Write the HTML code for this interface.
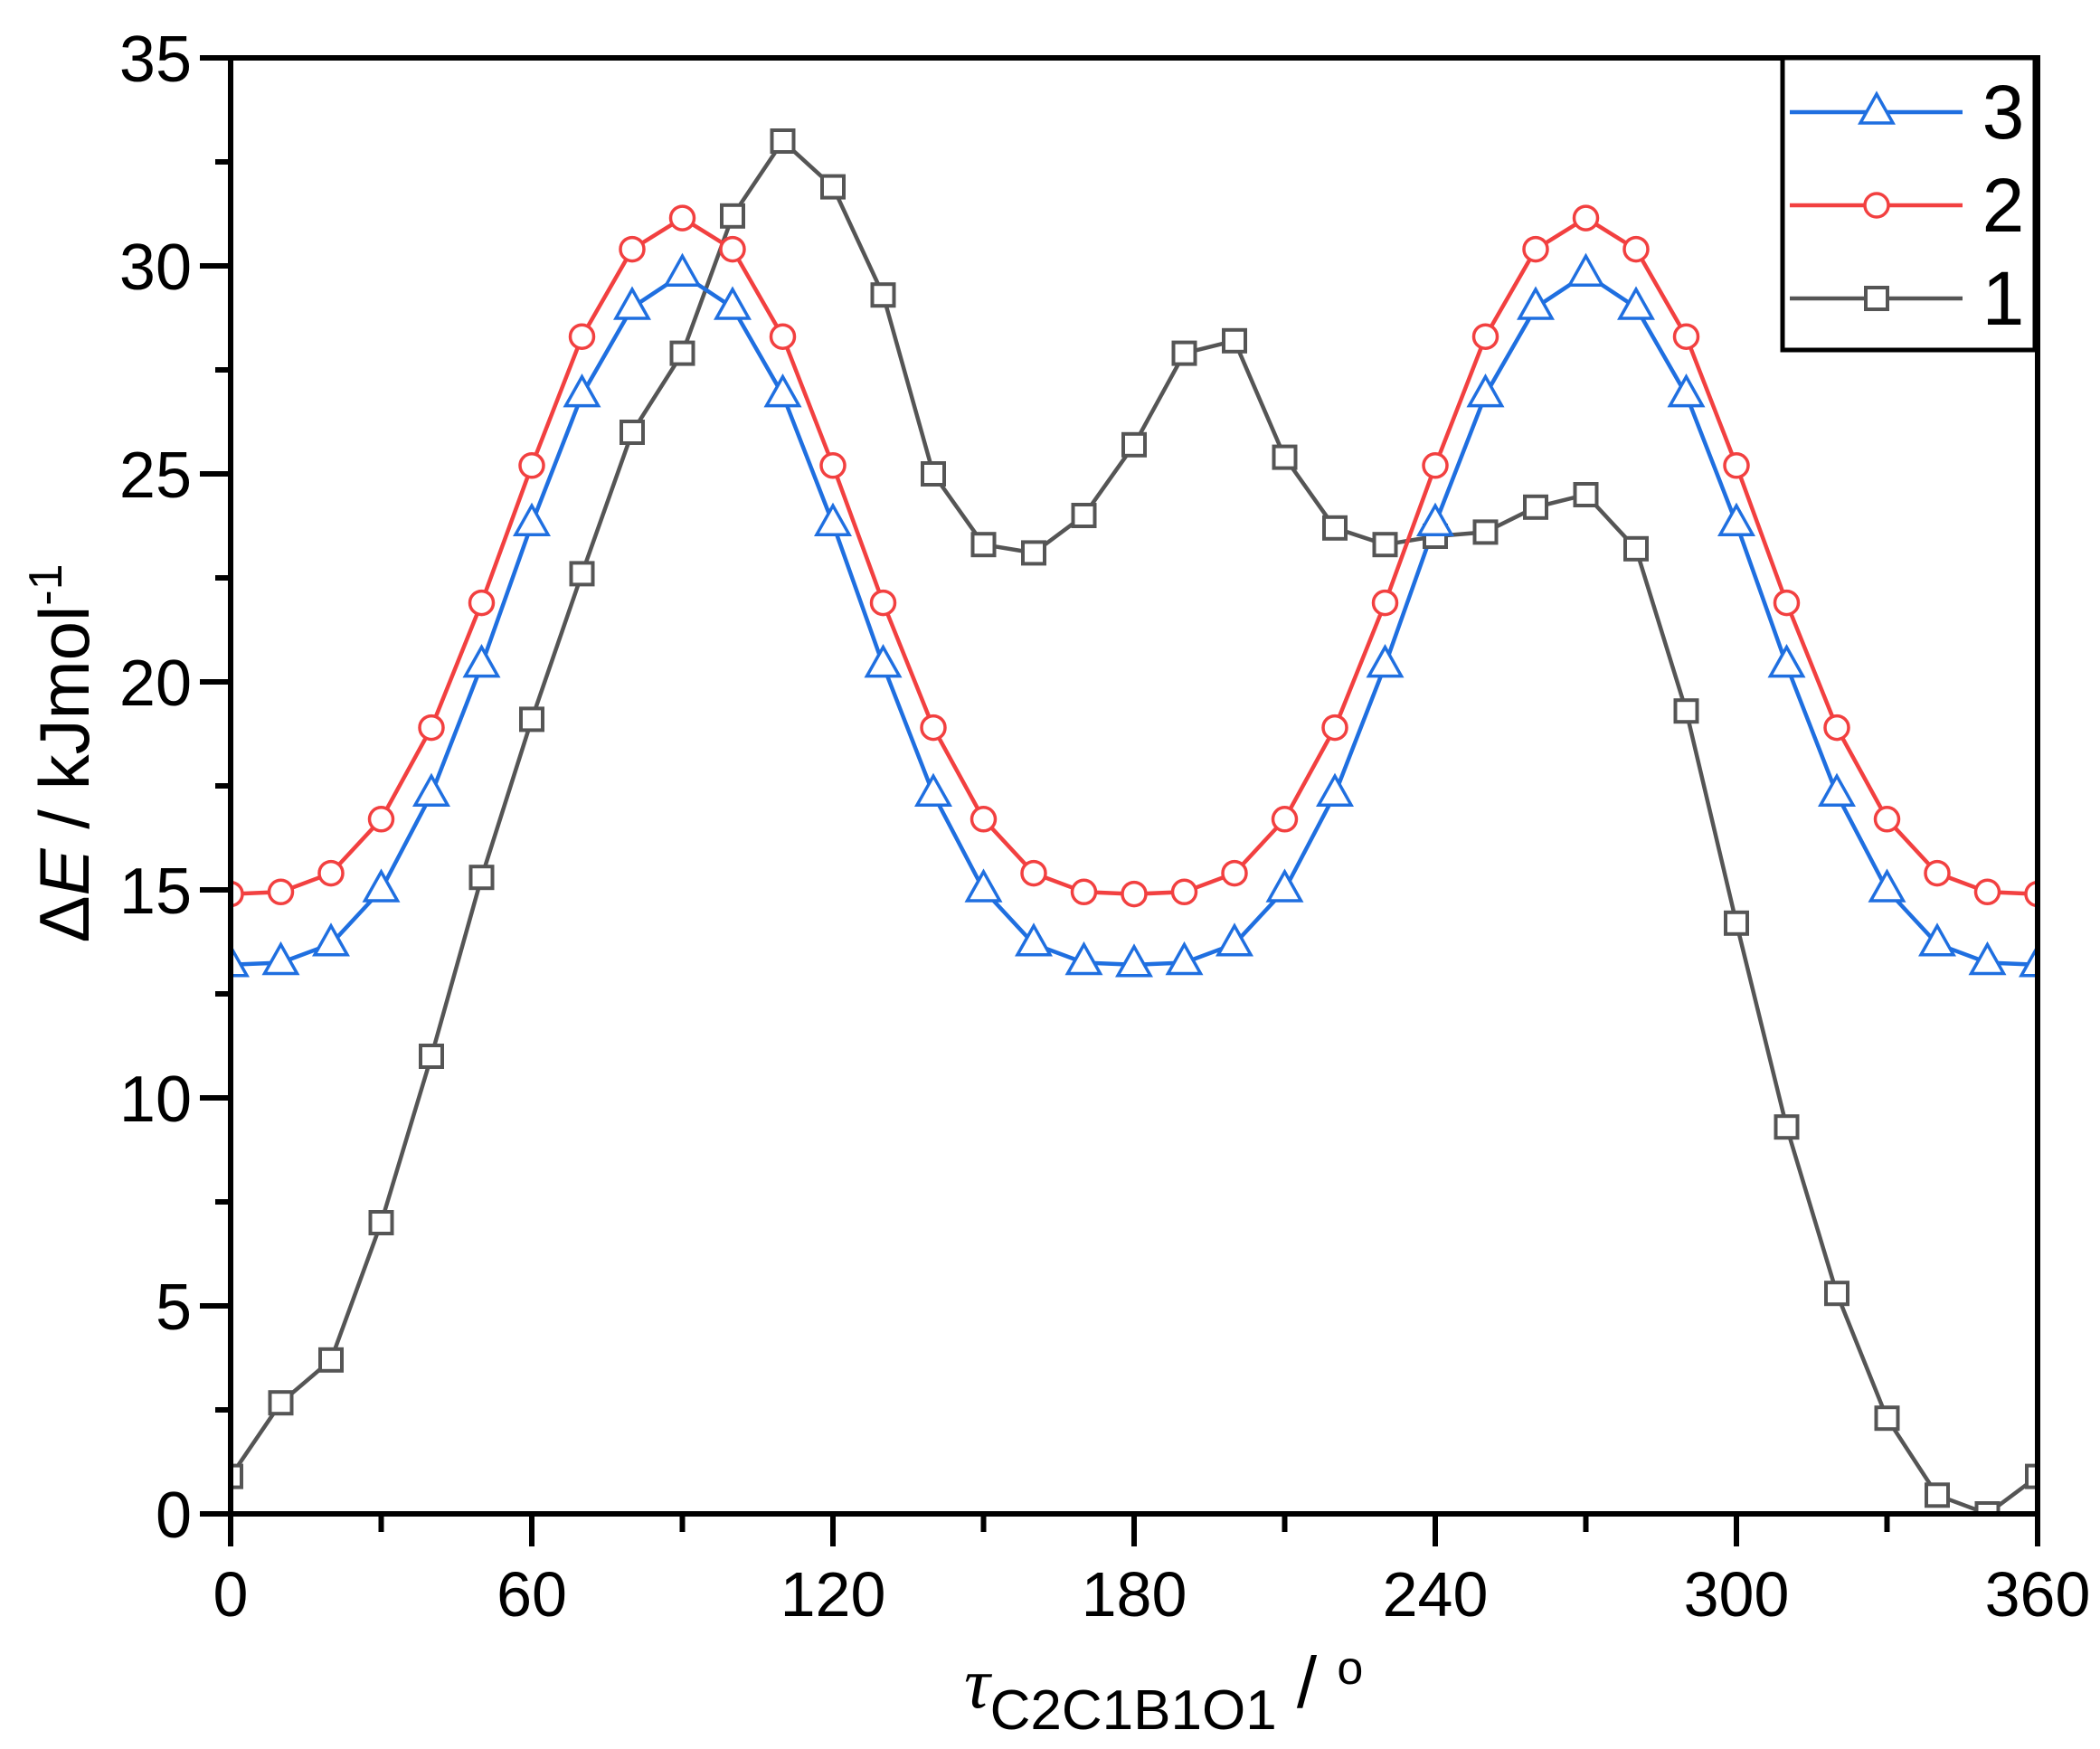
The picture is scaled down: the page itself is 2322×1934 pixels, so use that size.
<!DOCTYPE html>
<html><head><meta charset="utf-8"><style>html,body{margin:0;padding:0;background:#fff}svg{display:block}</style></head>
<body>
<svg xmlns="http://www.w3.org/2000/svg" width="2322" height="1934" viewBox="0 0 2322 1934" font-family="Liberation Sans, Arial, sans-serif">
<defs>
<clipPath id="pc"><rect x="255" y="64" width="1998" height="1610"/></clipPath>
<rect id="sq" x="-12" y="-12" width="24" height="24" fill="#fff" stroke="#555" stroke-width="4"/>
<circle id="ci" cx="0" cy="0" r="13" fill="#fff" stroke="#f24040" stroke-width="3.5"/>
<polygon id="tr" points="0,-20 18,12 -18,12" fill="#fff" stroke="#1f6fe0" stroke-width="3.5"/>
</defs>
<rect x="0" y="0" width="2322" height="1934" fill="#fff"/>

<g clip-path="url(#pc)">
<polyline fill="none" stroke="#555" stroke-width="4.5" points="255,1632.6 310.5,1551.2 366,1503.8 421.5,1352 477,1168 532.5,970.2 588,795.4 643.5,634.4 699,478 754.5,390.6 810,238.8 865.5,156 921,206.6 976.5,326.2 1032,524 1087.5,602.2 1143,611.4 1198.5,570 1254,491.8 1309.5,390.6 1365,376.8 1420.5,505.6 1476,583.8 1531.5,602.2 1587,593 1642.5,588.4 1698,560.8 1753.5,547 1809,606.8 1864.5,786.2 1920,1020.8 1975.5,1246.2 2031,1430.2 2086.5,1568.2 2142,1653.3 2197.5,1674 2253,1632.6"/>
<polyline fill="none" stroke="#f24040" stroke-width="4.5" points="255,988.6 310.5,986.3 366,965.6 421.5,905.8 477,804.6 532.5,666.6 588,514.8 643.5,372.2 699,275.6 754.5,241.1 810,275.6 865.5,372.2 921,514.8 976.5,666.6 1032,804.6 1087.5,905.8 1143,965.6 1198.5,986.3 1254,988.6 1309.5,986.3 1365,965.6 1420.5,905.8 1476,804.6 1531.5,666.6 1587,514.8 1642.5,372.2 1698,275.6 1753.5,241.1 1809,275.6 1864.5,372.2 1920,514.8 1975.5,666.6 2031,804.6 2086.5,905.8 2142,965.6 2197.5,986.3 2253,988.6"/>
<polyline fill="none" stroke="#1f6fe0" stroke-width="4.5" points="255,1066.8 310.5,1064.5 366,1043.8 421.5,984 477,878.2 532.5,735.6 588,579.2 643.5,436.6 699,340 754.5,303.2 810,340 865.5,436.6 921,579.2 976.5,735.6 1032,878.2 1087.5,984 1143,1043.8 1198.5,1064.5 1254,1066.8 1309.5,1064.5 1365,1043.8 1420.5,984 1476,878.2 1531.5,735.6 1587,579.2 1642.5,436.6 1698,340 1753.5,303.2 1809,340 1864.5,436.6 1920,579.2 1975.5,735.6 2031,878.2 2086.5,984 2142,1043.8 2197.5,1064.5 2253,1066.8"/>

<g>
<use href="#sq" x="255" y="1632.6"/><use href="#sq" x="310.5" y="1551.2"/><use href="#sq" x="366" y="1503.8"/><use href="#sq" x="421.5" y="1352"/><use href="#sq" x="477" y="1168"/><use href="#sq" x="532.5" y="970.2"/><use href="#sq" x="588" y="795.4"/><use href="#sq" x="643.5" y="634.4"/><use href="#sq" x="699" y="478"/><use href="#sq" x="754.5" y="390.6"/><use href="#sq" x="810" y="238.8"/><use href="#sq" x="865.5" y="156"/><use href="#sq" x="921" y="206.6"/><use href="#sq" x="976.5" y="326.2"/><use href="#sq" x="1032" y="524"/><use href="#sq" x="1087.5" y="602.2"/><use href="#sq" x="1143" y="611.4"/><use href="#sq" x="1198.5" y="570"/><use href="#sq" x="1254" y="491.8"/><use href="#sq" x="1309.5" y="390.6"/><use href="#sq" x="1365" y="376.8"/><use href="#sq" x="1420.5" y="505.6"/><use href="#sq" x="1476" y="583.8"/><use href="#sq" x="1531.5" y="602.2"/><use href="#sq" x="1587" y="593"/><use href="#sq" x="1642.5" y="588.4"/><use href="#sq" x="1698" y="560.8"/><use href="#sq" x="1753.5" y="547"/><use href="#sq" x="1809" y="606.8"/><use href="#sq" x="1864.5" y="786.2"/><use href="#sq" x="1920" y="1020.8"/><use href="#sq" x="1975.5" y="1246.2"/><use href="#sq" x="2031" y="1430.2"/><use href="#sq" x="2086.5" y="1568.2"/><use href="#sq" x="2142" y="1653.3"/><use href="#sq" x="2197.5" y="1674"/><use href="#sq" x="2253" y="1632.6"/>
</g>
<g>
<use href="#ci" x="255" y="988.6"/><use href="#ci" x="310.5" y="986.3"/><use href="#ci" x="366" y="965.6"/><use href="#ci" x="421.5" y="905.8"/><use href="#ci" x="477" y="804.6"/><use href="#ci" x="532.5" y="666.6"/><use href="#ci" x="588" y="514.8"/><use href="#ci" x="643.5" y="372.2"/><use href="#ci" x="699" y="275.6"/><use href="#ci" x="754.5" y="241.1"/><use href="#ci" x="810" y="275.6"/><use href="#ci" x="865.5" y="372.2"/><use href="#ci" x="921" y="514.8"/><use href="#ci" x="976.5" y="666.6"/><use href="#ci" x="1032" y="804.6"/><use href="#ci" x="1087.5" y="905.8"/><use href="#ci" x="1143" y="965.6"/><use href="#ci" x="1198.5" y="986.3"/><use href="#ci" x="1254" y="988.6"/><use href="#ci" x="1309.5" y="986.3"/><use href="#ci" x="1365" y="965.6"/><use href="#ci" x="1420.5" y="905.8"/><use href="#ci" x="1476" y="804.6"/><use href="#ci" x="1531.5" y="666.6"/><use href="#ci" x="1587" y="514.8"/><use href="#ci" x="1642.5" y="372.2"/><use href="#ci" x="1698" y="275.6"/><use href="#ci" x="1753.5" y="241.1"/><use href="#ci" x="1809" y="275.6"/><use href="#ci" x="1864.5" y="372.2"/><use href="#ci" x="1920" y="514.8"/><use href="#ci" x="1975.5" y="666.6"/><use href="#ci" x="2031" y="804.6"/><use href="#ci" x="2086.5" y="905.8"/><use href="#ci" x="2142" y="965.6"/><use href="#ci" x="2197.5" y="986.3"/><use href="#ci" x="2253" y="988.6"/>
</g>
<g>
<use href="#tr" x="255" y="1066.8"/><use href="#tr" x="310.5" y="1064.5"/><use href="#tr" x="366" y="1043.8"/><use href="#tr" x="421.5" y="984"/><use href="#tr" x="477" y="878.2"/><use href="#tr" x="532.5" y="735.6"/><use href="#tr" x="588" y="579.2"/><use href="#tr" x="643.5" y="436.6"/><use href="#tr" x="699" y="340"/><use href="#tr" x="754.5" y="303.2"/><use href="#tr" x="810" y="340"/><use href="#tr" x="865.5" y="436.6"/><use href="#tr" x="921" y="579.2"/><use href="#tr" x="976.5" y="735.6"/><use href="#tr" x="1032" y="878.2"/><use href="#tr" x="1087.5" y="984"/><use href="#tr" x="1143" y="1043.8"/><use href="#tr" x="1198.5" y="1064.5"/><use href="#tr" x="1254" y="1066.8"/><use href="#tr" x="1309.5" y="1064.5"/><use href="#tr" x="1365" y="1043.8"/><use href="#tr" x="1420.5" y="984"/><use href="#tr" x="1476" y="878.2"/><use href="#tr" x="1531.5" y="735.6"/><use href="#tr" x="1587" y="579.2"/><use href="#tr" x="1642.5" y="436.6"/><use href="#tr" x="1698" y="340"/><use href="#tr" x="1753.5" y="303.2"/><use href="#tr" x="1809" y="340"/><use href="#tr" x="1864.5" y="436.6"/><use href="#tr" x="1920" y="579.2"/><use href="#tr" x="1975.5" y="735.6"/><use href="#tr" x="2031" y="878.2"/><use href="#tr" x="2086.5" y="984"/><use href="#tr" x="2142" y="1043.8"/><use href="#tr" x="2197.5" y="1064.5"/><use href="#tr" x="2253" y="1066.8"/>
</g>
</g>

<rect x="255" y="64" width="1998" height="1610" fill="none" stroke="#000" stroke-width="6"/>

<g stroke="#000" stroke-width="6">
<line x1="221" y1="1674" x2="255" y2="1674"/><line x1="221" y1="1444" x2="255" y2="1444"/><line x1="221" y1="1214" x2="255" y2="1214"/><line x1="221" y1="984" x2="255" y2="984"/><line x1="221" y1="754" x2="255" y2="754"/><line x1="221" y1="524" x2="255" y2="524"/><line x1="221" y1="294" x2="255" y2="294"/><line x1="221" y1="64" x2="255" y2="64"/>
<line x1="238" y1="1559" x2="255" y2="1559"/><line x1="238" y1="1329" x2="255" y2="1329"/><line x1="238" y1="1099" x2="255" y2="1099"/><line x1="238" y1="869" x2="255" y2="869"/><line x1="238" y1="639" x2="255" y2="639"/><line x1="238" y1="409" x2="255" y2="409"/><line x1="238" y1="179" x2="255" y2="179"/>
<line x1="255" y1="1674" x2="255" y2="1710"/><line x1="588" y1="1674" x2="588" y2="1710"/><line x1="921" y1="1674" x2="921" y2="1710"/><line x1="1254" y1="1674" x2="1254" y2="1710"/><line x1="1587" y1="1674" x2="1587" y2="1710"/><line x1="1920" y1="1674" x2="1920" y2="1710"/><line x1="2253" y1="1674" x2="2253" y2="1710"/>
<line x1="421.5" y1="1674" x2="421.5" y2="1694"/><line x1="754.5" y1="1674" x2="754.5" y2="1694"/><line x1="1087.5" y1="1674" x2="1087.5" y2="1694"/><line x1="1420.5" y1="1674" x2="1420.5" y2="1694"/><line x1="1753.5" y1="1674" x2="1753.5" y2="1694"/><line x1="2086.5" y1="1674" x2="2086.5" y2="1694"/>
</g>

<g font-size="72" fill="#000" text-anchor="end">
<text x="212" y="1700">0</text><text x="212" y="1470">5</text><text x="212" y="1240">10</text><text x="212" y="1010">15</text><text x="212" y="780">20</text><text x="212" y="550">25</text><text x="212" y="320">30</text><text x="212" y="90">35</text>
</g>
<g font-size="70" fill="#000" text-anchor="middle">
<text x="255" y="1787">0</text><text x="588" y="1787">60</text><text x="921" y="1787">120</text><text x="1254" y="1787">180</text><text x="1587" y="1787">240</text><text x="1920" y="1787">300</text><text x="2253" y="1787">360</text>
</g>

<text transform="translate(98,833) rotate(-90)" text-anchor="middle" font-size="78" fill="#000">Δ<tspan font-style="italic">E</tspan> / kJmol<tspan font-size="52" dy="-30">-1</tspan></text>

<text x="1066" y="1888" font-size="80" fill="#000"><tspan font-family="Liberation Serif, serif" font-style="italic">τ</tspan><tspan font-size="62" dy="24">C2C1B1O1</tspan><tspan dy="-24"> / </tspan><tspan font-size="52" dy="-26">o</tspan></text>

<rect x="1971" y="64" width="279" height="323" fill="#fff" stroke="#000" stroke-width="5"/>
<line x1="1979" y1="124" x2="2170" y2="124" stroke="#1f6fe0" stroke-width="4.5"/>
<use href="#tr" x="2075" y="124"/>
<line x1="1979" y1="227" x2="2170" y2="227" stroke="#f24040" stroke-width="4.5"/>
<use href="#ci" x="2075" y="227"/>
<line x1="1979" y1="330" x2="2170" y2="330" stroke="#555" stroke-width="4.5"/>
<use href="#sq" x="2075" y="330"/>
<g font-size="84" fill="#000" text-anchor="middle">
<text x="2215" y="153">3</text><text x="2215" y="256">2</text><text x="2215" y="359">1</text>
</g>
</svg>
</body></html>
